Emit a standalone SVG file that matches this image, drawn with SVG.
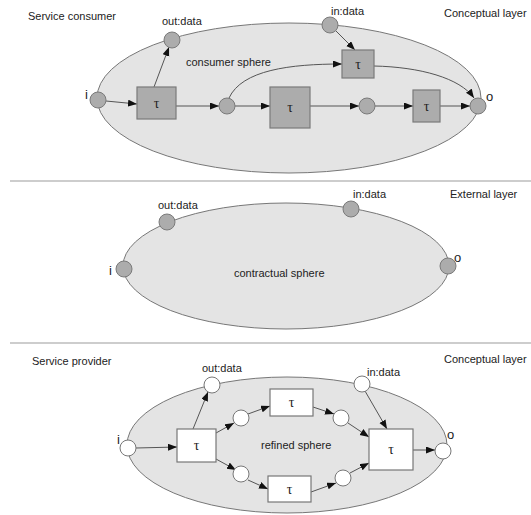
<svg xmlns="http://www.w3.org/2000/svg" width="531" height="515" viewBox="0 0 531 515">
  <style>
    text { font-family: "Liberation Sans", Arial, sans-serif; font-size: 11px; fill: #222; }
    .io { font-size: 13px; }
    .tau { font-family: "Liberation Serif", "Times New Roman", serif; font-size: 14px; text-anchor: middle; }
    .sphere { fill: #e4e4e4; stroke: #777; stroke-width: 1; }
    .place-g { fill: #acacac; stroke: #7a7a7a; stroke-width: 1; }
    .trans-g { fill: #acacac; stroke: #7a7a7a; stroke-width: 1.2; }
    .place-w { fill: #fff; stroke: #777; stroke-width: 1; }
    .trans-w { fill: #fff; stroke: #777; stroke-width: 1.2; }
    .sep { stroke: #bdbdbd; stroke-width: 1.5; }
    .arc { fill: none; stroke: #555; stroke-width: 1; marker-end: url(#arrow); }
  </style>
  <defs>
    <marker id="arrow" markerUnits="userSpaceOnUse" markerWidth="10" markerHeight="8" refX="9" refY="3.5" orient="auto">
      <path d="M0,0 L9,3.5 L0,7 z" fill="#111"/>
    </marker>
  </defs>

  <rect width="531" height="515" fill="#fff"/>

  <!-- layer separators -->
  <g id="separators">
    <line class="sep" x1="10" y1="181" x2="531" y2="181"/>
    <line class="sep" x1="10" y1="343" x2="531" y2="343"/>
  </g>

  <!-- layer titles -->
  <g id="titles">
    <text x="28" y="20">Service consumer</text>
    <text x="444" y="17">Conceptual layer</text>
    <text x="450" y="198">External layer</text>
    <text x="32" y="365">Service provider</text>
    <text x="444" y="363">Conceptual layer</text>
  </g>

  <!-- spheres -->
  <g id="consumer-sphere">
    <ellipse class="sphere" cx="289" cy="98" rx="192" ry="75"/>
    <text x="186" y="66">consumer sphere</text>
  </g>
  <g id="contractual-sphere">
    <ellipse class="sphere" cx="286" cy="266" rx="163" ry="63"/>
    <text x="234" y="277">contractual sphere</text>
  </g>
  <g id="refined-sphere">
    <ellipse class="sphere" cx="287" cy="445" rx="160" ry="68"/>
    <text x="261" y="449">refined sphere</text>
  </g>

  <!-- connectors -->
  <g id="connectors">
    <!-- consumer -->
    <line class="arc" x1="106" y1="101" x2="137" y2="104"/>
    <line class="arc" x1="154" y1="87" x2="169" y2="47"/>
    <line class="arc" x1="176" y1="106" x2="219" y2="106"/>
    <line class="arc" x1="235" y1="106" x2="270" y2="106"/>
    <line class="arc" x1="310" y1="106" x2="359" y2="106"/>
    <line class="arc" x1="375" y1="106" x2="413" y2="106"/>
    <line class="arc" x1="440" y1="106" x2="470" y2="106"/>
    <path class="arc" d="M229,98 C242,70 290,64 342,64"/>
    <line class="arc" x1="336" y1="31" x2="355" y2="50"/>
    <path class="arc" d="M374,66 C420,67 460,78 474,98"/>
    <!-- provider -->
    <line class="arc" x1="136" y1="448" x2="177" y2="447"/>
    <line class="arc" x1="193" y1="429" x2="208" y2="392"/>
    <line class="arc" x1="216" y1="433" x2="234" y2="423"/>
    <line class="arc" x1="216" y1="459" x2="236" y2="470"/>
    <line class="arc" x1="248" y1="414" x2="270" y2="406"/>
    <line class="arc" x1="248" y1="480" x2="268" y2="489"/>
    <line class="arc" x1="313" y1="407" x2="334" y2="414"/>
    <line class="arc" x1="348" y1="423" x2="369" y2="437"/>
    <line class="arc" x1="311" y1="492" x2="336" y2="483"/>
    <line class="arc" x1="350" y1="473" x2="369" y2="463"/>
    <line class="arc" x1="365" y1="391" x2="387" y2="429"/>
    <line class="arc" x1="413" y1="450" x2="435" y2="450"/>
  </g>

  <!-- consumer nodes -->
  <g id="c-i"><circle class="place-g" cx="98" cy="100" r="8"/><text class="io" x="85" y="99">i</text></g>
  <g id="c-out"><circle class="place-g" cx="172" cy="40" r="8"/><text x="162" y="25">out:data</text></g>
  <g id="c-in"><circle class="place-g" cx="330" cy="25" r="8"/><text x="331" y="15">in:data</text></g>
  <g id="c-o"><circle class="place-g" cx="478" cy="106" r="8"/><text class="io" x="486" y="101">o</text></g>
  <g id="c-t1"><rect class="trans-g" x="137" y="87" width="39" height="32"/><text class="tau" x="156.5" y="108">τ</text></g>
  <g id="c-p1"><circle class="place-g" cx="227" cy="106" r="8"/></g>
  <g id="c-t2"><rect class="trans-g" x="270" y="87" width="40" height="41"/><text class="tau" x="290" y="112">τ</text></g>
  <g id="c-p2"><circle class="place-g" cx="367" cy="106" r="8"/></g>
  <g id="c-t3"><rect class="trans-g" x="413" y="90" width="27" height="32"/><text class="tau" x="426.5" y="111">τ</text></g>
  <g id="c-t4"><rect class="trans-g" x="342" y="50" width="32" height="28"/><text class="tau" x="358" y="69">τ</text></g>

  <!-- contractual nodes -->
  <g id="e-i"><circle class="place-g" cx="124" cy="269" r="8"/><text class="io" x="109" y="275">i</text></g>
  <g id="e-out"><circle class="place-g" cx="167" cy="222" r="8"/><text x="158" y="209">out:data</text></g>
  <g id="e-in"><circle class="place-g" cx="351" cy="209" r="8"/><text x="353" y="198">in:data</text></g>
  <g id="e-o"><circle class="place-g" cx="448" cy="266" r="8"/><text class="io" x="454" y="262">o</text></g>

  <!-- provider nodes -->
  <g id="p-i"><circle class="place-w" cx="128" cy="448" r="8"/><text class="io" x="117" y="444">i</text></g>
  <g id="p-out"><circle class="place-w" cx="212" cy="385" r="8"/><text x="202" y="372">out:data</text></g>
  <g id="p-in"><circle class="place-w" cx="362" cy="384" r="8"/><text x="367" y="376">in:data</text></g>
  <g id="p-o"><circle class="place-w" cx="443" cy="451" r="8"/><text class="io" x="447" y="439">o</text></g>
  <g id="p-tA"><rect class="trans-w" x="177" y="429" width="39" height="33"/><text class="tau" x="196.5" y="450">τ</text></g>
  <g id="p-pA"><circle class="place-w" cx="241" cy="418" r="8"/></g>
  <g id="p-pB"><circle class="place-w" cx="241" cy="474" r="8"/></g>
  <g id="p-tB"><rect class="trans-w" x="270" y="389" width="43" height="27"/><text class="tau" x="291.5" y="407">τ</text></g>
  <g id="p-tC"><rect class="trans-w" x="268" y="476" width="43" height="26"/><text class="tau" x="289.5" y="494">τ</text></g>
  <g id="p-pC"><circle class="place-w" cx="341" cy="418" r="8"/></g>
  <g id="p-pD"><circle class="place-w" cx="343" cy="478" r="8"/></g>
  <g id="p-tD"><rect class="trans-w" x="369" y="429" width="44" height="41"/><text class="tau" x="391" y="454">τ</text></g>
</svg>
